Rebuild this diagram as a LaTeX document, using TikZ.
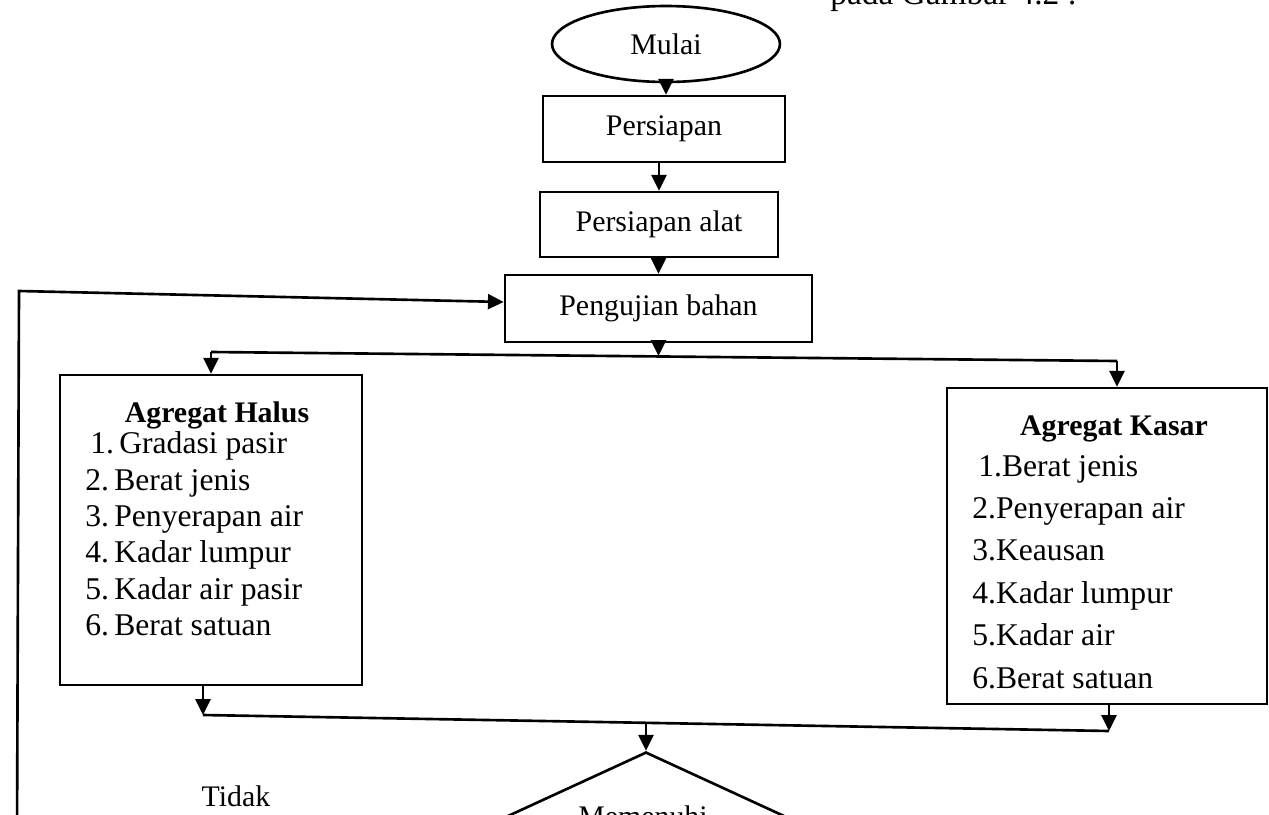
\documentclass[tikz,border=0pt]{standalone}
\usepackage{fontspec}
\setmainfont{Liberation Serif}
\usetikzlibrary{shapes.geometric,arrows.meta}
\begin{document}
\begin{tikzpicture}[x=0.02cm,y=-0.02cm,
  ln/.style={line width=1.5pt},
  arr/.style={ln,-{Triangle[length=9pt,width=8.5pt]}},
  box/.style={draw,ln,rectangle,inner sep=0pt,font=\fontsize{17}{20}\selectfont},
  lbl/.style={inner sep=0pt,anchor=base west,font=\fontsize{18}{21}\selectfont},
  ttl/.style={inner sep=0pt,anchor=base,font=\bfseries\fontsize{17}{20}\selectfont},
  txt/.style={inner sep=0pt,anchor=base,font=\fontsize{17}{20}\selectfont}]
\useasboundingbox (0,0) rectangle (1269,815);
\clip (0,0) rectangle (1269,815);

% cut-off caption line at the top
\node[inner sep=0pt,anchor=base west,font=\fontsize{19}{22}\selectfont] (caption) at (830,4) {pada Gambar 4.2 :};

% main chain
\node[draw,ln,ellipse,inner sep=0pt,minimum width=4.56cm,minimum height=1.52cm,font=\fontsize{17}{20}\selectfont] (mulai) at (666,44) {Mulai};
\node[box,minimum width=4.84cm,minimum height=1.32cm] (persiapan) at (664,129) {Persiapan};
\node[box,minimum width=4.76cm,minimum height=1.30cm] (alat) at (659,224.5) {Persiapan alat};
\node[box,minimum width=6.14cm,minimum height=1.34cm] (uji) at (658.5,308.5) {Pengujian bahan};

% aggregate boxes
\node[box,minimum width=6.04cm,minimum height=6.2cm] (halus) at (211,530) {};
\node[box,minimum width=6.4cm,minimum height=6.32cm] (kasar) at (1107,546) {};

\node[ttl] (halusT) at (217,422) {Agregat Halus};
\node[lbl] (h1) at (90,453) {1.\,Gradasi pasir};
\node[lbl] (h2) at (85,490) {2.\,Berat jenis};
\node[lbl] (h3) at (85,526) {3.\,Penyerapan air};
\node[lbl] (h4) at (85,562) {4.\,Kadar lumpur};
\node[lbl] (h5) at (85,599) {5.\,Kadar air pasir};
\node[lbl] (h6) at (85,635) {6.\,Berat satuan};

\node[ttl] (kasarT) at (1114,435) {Agregat Kasar};
\node[lbl] (k1) at (978,476) {1.Berat jenis};
\node[lbl] (k2) at (972,518) {2.Penyerapan air};
\node[lbl] (k3) at (972,560) {3.Keausan};
\node[lbl] (k4) at (972,603) {4.Kadar lumpur};
\node[lbl] (k5) at (972,645) {5.Kadar air};
\node[lbl] (k6) at (972,688) {6.Berat satuan};

% decision
\node[draw,ln,diamond,inner sep=0pt,minimum width=8.24cm,minimum height=3.8cm] (dec) at (646,847) {};
\node[txt] (memenuhi) at (643,826) {Memenuhi};
\node[txt] (tidak) at (236,806) {Tidak};

% connector coordinates
\coordinate (bl) at (211,352);
\coordinate (br) at (1117,361);
\coordinate (bm) at (658.5,356);
\coordinate (hb) at (203,715);
\coordinate (kb) at (1109,731);
\coordinate (dm) at (646,723);
\coordinate (fc) at (19,291);
\coordinate (fa) at (0,302);
\coordinate (fb) at (17,840);

% connectors
\draw[arr] (mulai.south) -- (mulai.south |- persiapan.north);
\draw[arr] (alat.north |- persiapan.south) -- (alat.north);
\draw[arr] (uji.north |- alat.south) -- (uji.north);
\draw[arr] (uji.south) -- (bm);
\draw[ln] (bl) -- (br);
\draw[arr] (bl) -- (halus.north);
\draw[arr] (br) -- (br |- kasar.north);
\draw[arr] (hb |- halus.south) -- (hb);
\draw[arr] (kb |- kasar.south) -- (kb);
\draw[ln] (hb) -- (kb);
\draw[arr] (dm) -- (dec.north);
\draw[arr] (fb) -- (fc) -- (uji.west |- fa);
\end{tikzpicture}
\end{document}
